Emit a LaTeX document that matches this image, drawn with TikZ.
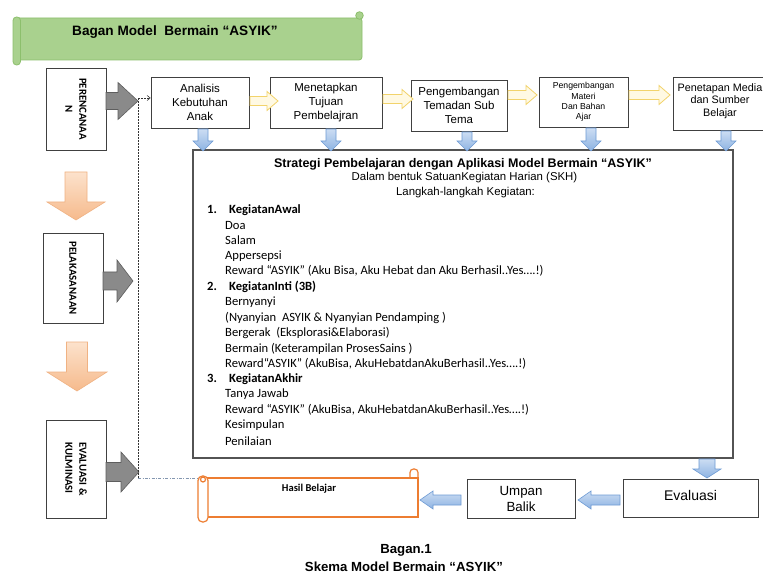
\documentclass[tikz,border=0pt]{standalone}
\usepackage{fontspec}
\setmainfont{Liberation Sans}
\newfontfamily\calib{Carlito}
\usetikzlibrary{arrows.meta}
\definecolor{bannerg}{HTML}{A9D18E}
\definecolor{bannerd}{HTML}{8CBF6C}
\definecolor{orng}{HTML}{ED7D31}
\definecolor{boxgray}{HTML}{404040}
\definecolor{grayfill}{HTML}{8A8A8A}
\definecolor{graydraw}{HTML}{5E5E5E}
\definecolor{yelfill}{HTML}{FFF9E3}
\definecolor{yeldraw}{HTML}{F2D36B}
\definecolor{bluetop}{HTML}{CCDDF3}
\definecolor{bluebot}{HTML}{8DB3E2}
\definecolor{bluedraw}{HTML}{6E9BD4}
\definecolor{orgtop}{HTML}{FCE2CC}
\definecolor{orgbot}{HTML}{F6BA8C}
\definecolor{orgdraw}{HTML}{F0B283}
\definecolor{dashblue}{HTML}{8497B0}
\tikzset{
  box/.style={draw=boxgray, line width=0.8pt, fill=white, align=center, inner sep=1pt},
  boxfont/.style={font=\fontsize{11.5}{14.3}\selectfont},
  sidebox/.style={draw=boxgray, line width=0.8pt, fill=white, inner sep=0pt},
  sidetext/.style={rotate=-90, font=\calib\bfseries\fontsize{10.8}{14}\selectfont, inner sep=0pt},
  grayarr/.style={fill=grayfill, draw=graydraw, line width=0.6pt},
  yelarr/.style={fill=yelfill, draw=yeldraw, line width=0.8pt},
  bluearr/.style={top color=bluetop, bottom color=bluebot, draw=bluedraw, line width=0.6pt},
  orgarr/.style={top color=orgtop, bottom color=orgbot, draw=orgdraw, line width=0.6pt},
  banner/.style={fill=bannerg, draw=bannerd, line width=0.8pt},
  hasilst/.style={fill=white, draw=orng, line width=1.2pt},
  lst/.style={anchor=west, inner sep=0pt, font=\calib\fontsize{12.6}{15}\selectfont},
  lsthead/.style={anchor=west, inner sep=0pt, font=\calib\bfseries\fontsize{12.6}{15}\selectfont},
  dotline/.style={dash pattern=on 1.6pt off 1.4pt, line width=0.6pt, black!80},
  dashdotline/.style={dash pattern=on 3pt off 1.5pt on 0.8pt off 1.5pt, line width=0.7pt, dashblue}
}
% horizontal right arrow: style, x1, x2(tip), yc, shaft half, head half, head length
\newcommand{\rarr}[7]{\draw[#1] (#2,{#4-#5}) -- ({#3-#7},{#4-#5}) -- ({#3-#7},{#4-#6}) -- (#3,#4) -- ({#3-#7},{#4+#6}) -- ({#3-#7},{#4+#5}) -- (#2,{#4+#5}) -- cycle;}
% horizontal left arrow: style, x1, x2(tip, smaller), yc, shaft half, head half, head length
\newcommand{\larr}[7]{\draw[#1] (#2,{#4-#5}) -- ({#3+#7},{#4-#5}) -- ({#3+#7},{#4-#6}) -- (#3,#4) -- ({#3+#7},{#4+#6}) -- ({#3+#7},{#4+#5}) -- (#2,{#4+#5}) -- cycle;}
% down arrow: style, xc, y1, y2(tip), shaft half, head half, head length
\newcommand{\darr}[7]{\draw[#1] ({#2-#5},#3) -- ({#2-#5},{#4-#7}) -- ({#2-#6},{#4-#7}) -- (#2,#4) -- ({#2+#6},{#4-#7}) -- ({#2+#5},{#4-#7}) -- ({#2+#5},#3) -- cycle;}
\begin{document}
\begin{tikzpicture}[x=1pt, y=-1pt]
\useasboundingbox[fill=white] (0,0) rectangle (763,577);

% ---- title banner
\draw[banner, rounded corners=3] (16,18) rectangle (362,60);
\draw[banner, rounded corners=3.5] (13,17) rectangle (20.5,65);
\draw[banner] (359.5,15.5) circle (3.8);
\node[anchor=west, inner sep=0pt, font=\bfseries\fontsize{13.6}{16}\selectfont] (bannertxt) at (72,32) {Bagan Model\ \ Bermain “ASYIK”};

% ---- left column
\node[sidebox, minimum width=60pt, minimum height=82pt] (p1) at (76,109) {};
\node[sidetext, align=center] (p1t) at (p1.center) {PERENCANAA\\N};
\node[sidebox, minimum width=60pt, minimum height=90pt] (p2) at (73,278) {};
\node[sidetext, align=center] (p2t) at (p2.center) {PELAKASANAAN};
\node[sidebox, minimum width=60pt, minimum height=98pt] (p3) at (76,469) {};
\node[sidetext, align=left] (p3t) at (p3.center) {EVALUASI \&\\KULMINASI};

\rarr{grayarr}{106}{138}{101}{8.5}{18.5}{20}
\rarr{grayarr}{103}{133}{281}{9}{21}{16}
\rarr{grayarr}{106}{139}{472}{9.5}{20}{18}

\darr{orgarr}{76}{172}{220}{11}{29}{18}
\darr{orgarr}{77}{342}{391}{10.5}{30}{19}

% ---- top row boxes
\node[box, boxfont, minimum width=98pt, minimum height=51pt] (b1) at (200,102.5) {Analisis\\Kebutuhan\\Anak};
\node[box, boxfont, minimum width=112pt, minimum height=51pt] (b2) at (326,102.5) {Menetapkan\\Tujuan\\Pembelajran};
\node[box, boxfont, minimum width=96pt, minimum height=51pt] (b3) at (459,105.5) {Pengembangan\\Temadan Sub\\Tema};
\node[box, font=\fontsize{8.7}{10.3}\selectfont, minimum width=89pt, minimum height=50pt] (b4) at (583.5,102) {Pengembangan\\Materi\\Dan Bahan\\Ajar};
\node[box, minimum width=102pt, minimum height=53pt] (b5) at (724,103.5) {};
\node[inner sep=0pt, align=center, font=\fontsize{10.8}{12.6}\selectfont] (b5t) at (720,101) {Penetapan Media\\dan Sumber\\Belajar};

\rarr{yelarr}{250}{278}{101}{4.5}{9.5}{11}
\rarr{yelarr}{383}{413}{99}{4.5}{9.5}{11}
\rarr{yelarr}{508}{537}{95}{4.5}{9.5}{11}
\rarr{yelarr}{629}{670}{95}{4.5}{9.5}{11}

% ---- main strategy box
\node[draw=boxgray!90, line width=1.3pt, fill=white, minimum width=540pt, minimum height=308pt, inner sep=0pt] (main) at (463,304) {};

\darr{bluearr}{203}{129}{151}{5}{10}{10}
\darr{bluearr}{331}{129}{151}{5}{10}{10}
\darr{bluearr}{467}{132}{151}{5}{10}{10}
\darr{bluearr}{591}{128}{151}{5}{10}{10}
\darr{bluearr}{726}{131}{151}{5}{10}{10}

\node[inner sep=0pt, font=\bfseries\fontsize{12.5}{15}\selectfont] (mt) at (463,164) {Strategi Pembelajaran dengan Aplikasi Model Bermain “ASYIK”};
\node[inner sep=0pt, font=\fontsize{11.4}{14}\selectfont] (ms1) at (464.5,178) {Dalam bentuk SatuanKegiatan Harian (SKH)};
\node[inner sep=0pt, font=\fontsize{11.4}{14}\selectfont] (ms2) at (465.5,193) {Langkah-langkah Kegiatan:};

\node[lsthead] (l1) at (207,210) {\makebox[22pt][l]{1.}KegiatanAwal};
\node[lst] (l2) at (225,225.5) {Doa};
\node[lst] (l3) at (225,240.5) {Salam};
\node[lst] (l4) at (225,256) {Appersepsi};
\node[lst] (l5) at (225,271) {Reward “ASYIK” (Aku Bisa, Aku Hebat dan Aku Berhasil..Yes….!)};
\node[lsthead] (l6) at (207,286.5) {\makebox[22pt][l]{2.}KegiatanInti (3B)};
\node[lst] (l7) at (225,302.5) {Bernyanyi};
\node[lst] (l8) at (225,318) {(Nyanyian\ \ ASYIK \& Nyanyian Pendamping )};
\node[lst] (l9) at (225,333) {Bergerak\ \ (Eksplorasi\&Elaborasi)};
\node[lst] (l10) at (225,348.5) {Bermain (Keterampilan ProsesSains )};
\node[lst] (l11) at (225,363.5) {Reward“ASYIK” (AkuBisa, AkuHebatdanAkuBerhasil..Yes….!)};
\node[lsthead] (l12) at (207,379) {\makebox[22pt][l]{3.}KegiatanAkhir};
\node[lst] (l13) at (225,394.5) {Tanya Jawab};
\node[lst] (l14) at (225,410) {Reward “ASYIK” (AkuBisa, AkuHebatdanAkuBerhasil..Yes….!)};
\node[lst] (l15) at (225,425.5) {Kesimpulan};
\node[lst] (l16) at (225,441) {Penilaian};

% ---- bottom row
\node[box, font=\fontsize{14}{16}\selectfont, minimum width=135pt, minimum height=38pt] (ev) at (690.5,498) {\raisebox{5pt}{Evaluasi}};
\node[box, font=\fontsize{13.3}{16}\selectfont, minimum width=108pt, minimum height=39pt] (ub) at (521,498.5) {Umpan\\Balik};

\draw[hasilst, rounded corners=3.5] (410,469) rectangle (418,481);
\node[hasilst, minimum width=212pt, minimum height=39pt, inner sep=0pt] (hasil) at (312,497.5) {};
\draw[hasilst, rounded corners=4.5] (198,476) rectangle (208,522);
\draw[hasilst] (203,479.5) circle (2.5);
\node[inner sep=0pt, font=\calib\bfseries\fontsize{10.5}{12}\selectfont] (hasilt) at (309,489) {Hasil Belajar};

\darr{bluearr}{707}{459}{478}{8}{14}{9}
\larr{bluearr}{620}{578}{500}{5}{9}{13}
\larr{bluearr}{461}{420}{500}{5}{9}{13}

% ---- dotted guide lines
\coordinate (dtop) at (138,98);
\coordinate (dbot) at (138,478);
\coordinate (hroll) at (198,478);
\draw[dotline] (dbot) -- (dtop);
\draw[dotline, -{Straight Barb[length=3pt, width=5pt]}] (dtop) -- (b1.west |- dtop);
\draw[dashdotline] (dbot) -- (hroll);

% ---- caption
\node[inner sep=0pt, font=\bfseries\fontsize{13.2}{16}\selectfont] (cap1) at (406,550) {Bagan.1};
\node[inner sep=0pt, font=\bfseries\fontsize{13.2}{16}\selectfont] (cap2) at (404,567) {Skema Model Bermain “ASYIK”};
\end{tikzpicture}
\end{document}
